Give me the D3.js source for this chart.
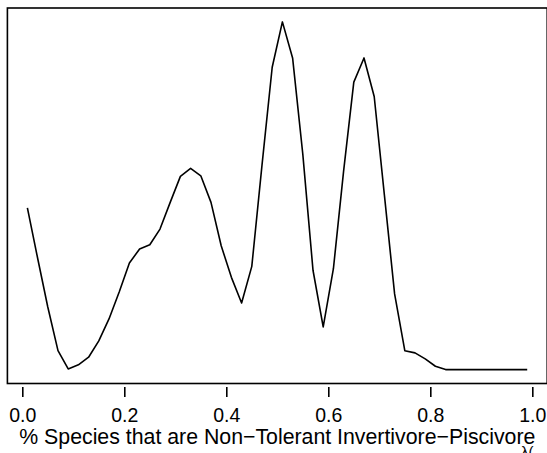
<!DOCTYPE html>
<html>
<head>
<meta charset="utf-8">
<script src="https://cdn.jsdelivr.net/npm/d3@7"></script>
<style>
  html, body { margin: 0; padding: 0; background: #fff; }
  svg { display: block; font-family: "Liberation Sans", Arial, Helvetica, sans-serif; }
</style>
</head>
<body>
<svg id="chart" width="547" height="453"></svg>
<script>
// Data (density estimate)
const xValues = [0.01,0.03,0.05,0.07,0.09,0.11,0.13,0.15,0.17,0.19,
                 0.21,0.23,0.25,0.27,0.29,0.31,0.33,0.35,0.37,0.39,
                 0.41,0.43,0.45,0.47,0.49,0.51,0.53,0.55,0.57,0.59,
                 0.61,0.63,0.65,0.67,0.69,0.71,0.73,0.75,0.77,0.79,
                 0.81,0.83,0.85,0.87,0.89,0.91,0.93,0.95,0.97,0.99];
const densityValues = [1.163,0.802,0.450,0.136,0.005,0.034,0.089,0.206,0.364,0.558,
                       0.766,0.867,0.897,1.010,1.202,1.389,1.446,1.393,1.202,0.890,
                       0.663,0.479,0.742,1.470,2.173,2.499,2.240,1.549,0.714,0.307,
                       0.725,1.427,2.066,2.240,1.963,1.254,0.544,0.136,0.120,0.077,
                       0.024,0,0,0,0,0,0,0,0,0];
const xTicks = [0, 0.2, 0.4, 0.6, 0.8, 1.0];
const xTickLabels = ["0.0", "0.2", "0.4", "0.6", "0.8", "1.0"];
const xTitle = "% Species that are Non\u2212Tolerant Invertivore\u2212Piscivore";
const cornerText = "\u03bb(";

const svg = d3.select("#chart");
const plotLeft = 7.4, plotRight = 547.2, plotTop = 8, plotBottom = 383.5;

// R-style 4% extension of data ranges
const xr = d3.extent(xValues), xpad = (xr[1] - xr[0]) * 0.04;
const yr = d3.extent(densityValues), ypad = (yr[1] - yr[0]) * 0.04;
const x = d3.scaleLinear().domain([xr[0] - xpad, xr[1] + xpad]).range([plotLeft, plotRight]);
const y = d3.scaleLinear().domain([yr[0] - ypad, yr[1] + ypad]).range([plotBottom, plotTop]);

// density curve
const line = d3.line().x((d, i) => x(xValues[i])).y(d => y(d));
svg.append("path")
  .datum(densityValues)
  .attr("d", line)
  .attr("fill", "none")
  .attr("stroke", "#000")
  .attr("stroke-width", 1.6)
  .attr("stroke-linejoin", "round");

// box
svg.append("rect")
  .attr("x", plotLeft).attr("y", plotTop)
  .attr("width", plotRight - plotLeft).attr("height", plotBottom - plotTop)
  .attr("fill", "none").attr("stroke", "#000").attr("stroke-width", 1.6);

// x axis (ticks only, no axis line)
const axis = d3.axisBottom(x)
  .tickValues(xTicks)
  .tickFormat((d, i) => xTickLabels[i])
  .tickSize(10)
  .tickPadding(8);
const g = svg.append("g")
  .attr("transform", `translate(0,${387})`)
  .call(axis);
g.select(".domain").remove();
g.selectAll(".tick line").attr("stroke", "#000").attr("stroke-width", 1.6);
g.selectAll(".tick text")
  .attr("fill", "#000")
  .attr("font-size", 19.5)
  .attr("font-family", "Liberation Sans, Arial, sans-serif")
  .attr("dy", null)
  .attr("y", 34.5);

// x title
svg.append("text")
  .attr("x", (plotLeft + plotRight) / 2)
  .attr("y", 444)
  .attr("text-anchor", "middle")
  .attr("font-size", 21.3)
  .attr("fill", "#000")
  .text(xTitle);

// partially visible text at the bottom right corner (cut off in the reference)
svg.append("text")
  .attr("x", 521)
  .attr("y", 457)
  .attr("font-size", 15)
  .attr("fill", "#000")
  .text(cornerText);
</script>
</body>
</html>
